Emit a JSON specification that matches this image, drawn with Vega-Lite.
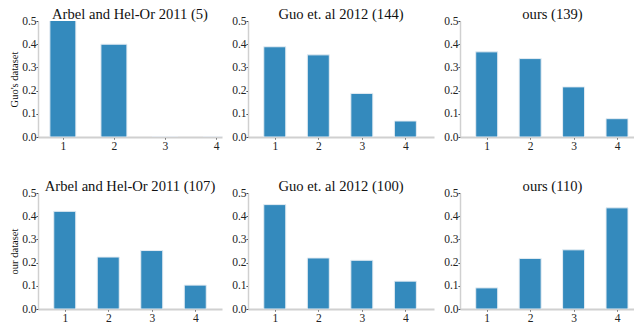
{
  "$schema": "https://vega.github.io/schema/vega-lite/v6.json",
  "background": "white",
  "padding": {"left": 9, "top": 7, "right": 0, "bottom": 0},
  "config": {
    "font": "Liberation Serif",
    "view": {"stroke": null},
    "axis": {
      "labelFont": "Liberation Serif", "titleFont": "Liberation Serif",
      "labelFontSize": 11.5, "labelColor": "#222",
      "titleFontSize": 10.5, "titleFontWeight": "normal", "titleColor": "#111",
      "domainColor": "#d0d0d0", "tickColor": "#333", "grid": false
    },
    "axisX": {"domainWidth": 2, "tickSize": 2, "labelPadding": 1, "labelAngle": 0},
    "axisY": {"domainWidth": 1.5, "tickSize": 2, "labelPadding": 0, "titlePadding": 2},
    "title": {"font": "Liberation Serif", "fontSize": 14.6, "fontWeight": "normal", "color": "#111", "frame": "group", "offset": -7, "baseline": "alphabetic"}
  },
  "data": {"values": [
    {"dataset": "Guo's dataset", "method": "Arbel", "k": 1, "share": 0.6},
    {"dataset": "Guo's dataset", "method": "Arbel", "k": 2, "share": 0.4},
    {"dataset": "Guo's dataset", "method": "Arbel", "k": 3, "share": 0},
    {"dataset": "Guo's dataset", "method": "Arbel", "k": 4, "share": 0},
    {"dataset": "Guo's dataset", "method": "Guo", "k": 1, "share": 0.389},
    {"dataset": "Guo's dataset", "method": "Guo", "k": 2, "share": 0.354},
    {"dataset": "Guo's dataset", "method": "Guo", "k": 3, "share": 0.188},
    {"dataset": "Guo's dataset", "method": "Guo", "k": 4, "share": 0.069},
    {"dataset": "Guo's dataset", "method": "ours", "k": 1, "share": 0.367},
    {"dataset": "Guo's dataset", "method": "ours", "k": 2, "share": 0.338},
    {"dataset": "Guo's dataset", "method": "ours", "k": 3, "share": 0.216},
    {"dataset": "Guo's dataset", "method": "ours", "k": 4, "share": 0.079},
    {"dataset": "our dataset", "method": "Arbel", "k": 1, "share": 0.421},
    {"dataset": "our dataset", "method": "Arbel", "k": 2, "share": 0.224},
    {"dataset": "our dataset", "method": "Arbel", "k": 3, "share": 0.252},
    {"dataset": "our dataset", "method": "Arbel", "k": 4, "share": 0.103},
    {"dataset": "our dataset", "method": "Guo", "k": 1, "share": 0.45},
    {"dataset": "our dataset", "method": "Guo", "k": 2, "share": 0.22},
    {"dataset": "our dataset", "method": "Guo", "k": 3, "share": 0.21},
    {"dataset": "our dataset", "method": "Guo", "k": 4, "share": 0.12},
    {"dataset": "our dataset", "method": "ours", "k": 1, "share": 0.091},
    {"dataset": "our dataset", "method": "ours", "k": 2, "share": 0.218},
    {"dataset": "our dataset", "method": "ours", "k": 3, "share": 0.255},
    {"dataset": "our dataset", "method": "ours", "k": 4, "share": 0.436}
  ]},
  "bounds": "flush",
  "columns": 3,
  "spacing": {"row": 56, "column": 26},
  "concat": [
    {
      "width": 184, "height": 116,
      "title": {"text": "Arbel and Hel-Or 2011 (5)"},
      "transform": [{"filter": "datum.dataset === \"Guo's dataset\" && datum.method === 'Arbel'"}],
      "mark": {"type": "bar", "width": 26, "color": "#348ABD", "stroke": "#e6edf3", "strokeWidth": 1, "clip": true},
      "encoding": {
        "x": {"field": "k", "type": "quantitative", "scale": {"domain": [0.611, 4.019], "nice": false, "zero": false}, "axis": {"values": [1, 2, 3, 4], "format": "d", "title": null}},
        "y": {"field": "share", "type": "quantitative", "scale": {"domain": [0, 0.5], "nice": false}, "axis": {"values": [0, 0.1, 0.2, 0.3, 0.4, 0.5], "format": ".1f", "title": "Guo's dataset"}}
      }
    },
    {
      "width": 186, "height": 116,
      "title": {"text": "Guo et. al 2012 (144)"},
      "transform": [{"filter": "datum.dataset === \"Guo's dataset\" && datum.method === 'Guo'"}],
      "mark": {"type": "bar", "width": 22, "color": "#348ABD", "stroke": "#e6edf3", "strokeWidth": 1, "clip": true},
      "encoding": {
        "x": {"field": "k", "type": "quantitative", "scale": {"domain": [0.5, 4.543], "nice": false, "zero": false}, "axis": {"values": [1, 2, 3, 4], "format": "d", "title": null}},
        "y": {"field": "share", "type": "quantitative", "scale": {"domain": [0, 0.5], "nice": false}, "axis": {"values": [0, 0.1, 0.2, 0.3, 0.4, 0.5], "format": ".1f", "title": null}}
      }
    },
    {
      "width": 179, "height": 116,
      "title": {"text": "ours (139)", "dx": 3},
      "transform": [{"filter": "datum.dataset === \"Guo's dataset\" && datum.method === 'ours'"}],
      "mark": {"type": "bar", "width": 22, "color": "#348ABD", "stroke": "#e6edf3", "strokeWidth": 1, "clip": true},
      "encoding": {
        "x": {"field": "k", "type": "quantitative", "scale": {"domain": [0.5, 4.391], "nice": false, "zero": false}, "axis": {"values": [1, 2, 3, 4], "format": "d", "title": null}},
        "y": {"field": "share", "type": "quantitative", "scale": {"domain": [0, 0.5], "nice": false}, "axis": {"values": [0, 0.1, 0.2, 0.3, 0.4, 0.5], "format": ".1f", "title": null}}
      }
    },
    {
      "width": 184, "height": 116,
      "title": {"text": "Arbel and Hel-Or 2011 (107)"},
      "transform": [{"filter": "datum.dataset === 'our dataset' && datum.method === 'Arbel'"}],
      "mark": {"type": "bar", "width": 22, "color": "#348ABD", "stroke": "#e6edf3", "strokeWidth": 1, "clip": true},
      "encoding": {
        "x": {"field": "k", "type": "quantitative", "scale": {"domain": [0.5, 4.5], "nice": false, "zero": false}, "axis": {"values": [1, 2, 3, 4], "format": "d", "title": null}},
        "y": {"field": "share", "type": "quantitative", "scale": {"domain": [0, 0.5], "nice": false}, "axis": {"values": [0, 0.1, 0.2, 0.3, 0.4, 0.5], "format": ".1f", "title": "our dataset"}}
      }
    },
    {
      "width": 186, "height": 116,
      "title": {"text": "Guo et. al 2012 (100)"},
      "transform": [{"filter": "datum.dataset === 'our dataset' && datum.method === 'Guo'"}],
      "mark": {"type": "bar", "width": 22, "color": "#348ABD", "stroke": "#e6edf3", "strokeWidth": 1, "clip": true},
      "encoding": {
        "x": {"field": "k", "type": "quantitative", "scale": {"domain": [0.5, 4.543], "nice": false, "zero": false}, "axis": {"values": [1, 2, 3, 4], "format": "d", "title": null}},
        "y": {"field": "share", "type": "quantitative", "scale": {"domain": [0, 0.5], "nice": false}, "axis": {"values": [0, 0.1, 0.2, 0.3, 0.4, 0.5], "format": ".1f", "title": null}}
      }
    },
    {
      "width": 179, "height": 116,
      "title": {"text": "ours (110)", "dx": 3},
      "transform": [{"filter": "datum.dataset === 'our dataset' && datum.method === 'ours'"}],
      "mark": {"type": "bar", "width": 22, "color": "#348ABD", "stroke": "#e6edf3", "strokeWidth": 1, "clip": true},
      "encoding": {
        "x": {"field": "k", "type": "quantitative", "scale": {"domain": [0.5, 4.391], "nice": false, "zero": false}, "axis": {"values": [1, 2, 3, 4], "format": "d", "title": null}},
        "y": {"field": "share", "type": "quantitative", "scale": {"domain": [0, 0.5], "nice": false}, "axis": {"values": [0, 0.1, 0.2, 0.3, 0.4, 0.5], "format": ".1f", "title": null}}
      }
    }
  ]
}
